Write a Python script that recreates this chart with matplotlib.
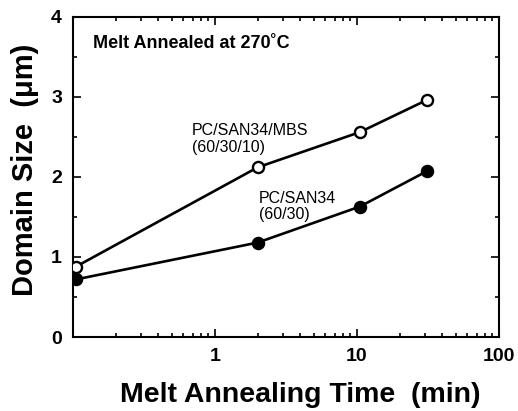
import matplotlib
matplotlib.use("Agg")
import matplotlib.pyplot as plt
from matplotlib.ticker import MultipleLocator, LogLocator, FixedLocator, NullFormatter

plt.rcParams['font.family'] = ['Liberation Sans', 'DejaVu Sans']

# Data
time_mbs = [0.105, 2.0, 10.5, 31]
size_mbs = [0.88, 2.12, 2.56, 2.96]
time_san = [0.105, 2.0, 10.5, 31]
size_san = [0.72, 1.18, 1.63, 2.07]
xtick_vals = [1, 10, 100]
xtick_labels = ['1', '10', '100']
ytick_vals = [0, 1, 2, 3, 4]

fig = plt.figure(figsize=(5.18, 4.11), dpi=100)
ax = fig.add_axes([0.141, 0.180, 0.822, 0.779])

ax.plot(time_mbs, size_mbs, '-o', color='black', lw=1.9, ms=8,
        mfc='white', mec='black', mew=1.7, zorder=3)
ax.plot(time_san, size_san, '-o', color='black', lw=1.9, ms=8,
        mfc='black', mec='black', mew=1.7, zorder=3)

ax.set_xscale('log')
ax.set_xlim(0.1, 100)
ax.set_ylim(0, 4)
ax.xaxis.set_major_locator(FixedLocator(xtick_vals))
ax.set_xticklabels(xtick_labels)
ax.xaxis.set_minor_locator(LogLocator(base=10, subs=range(2, 10)))
ax.xaxis.set_minor_formatter(NullFormatter())
ax.yaxis.set_major_locator(FixedLocator(ytick_vals))
ax.yaxis.set_minor_locator(MultipleLocator(0.5))

ax.tick_params(which='both', direction='in', top=True, right=True, width=1.2)
ax.tick_params(which='major', length=6, labelsize=14, pad=8)
ax.tick_params(which='minor', length=3)
for lab in ax.get_xticklabels() + ax.get_yticklabels():
    lab.set_fontweight('bold')
for s in ax.spines.values():
    s.set_linewidth(1.5)

ax.set_xlabel('Melt Annealing Time  (min)', fontsize=20.5, fontweight='bold', labelpad=12)
ax.xaxis.label.set_x(0.533)
ax.set_ylabel('Domain Size  (\u03bcm)', fontsize=21, fontweight='bold', labelpad=9)
ax.yaxis.label.set_y(0.522)

ax.text(0.047, 0.903, 'Melt Annealed at 270\u02daC', transform=ax.transAxes,
        fontsize=13, fontweight='bold', va='baseline', ha='left')
ax.text(0.69, 2.67, 'PC/SAN34/MBS\n(60/30/10)', fontsize=11.5, va='top', ha='left',
        linespacing=1.15)
ax.text(2.04, 1.83, 'PC/SAN34\n(60/30)', fontsize=11.5, va='top', ha='left',
        linespacing=1.1)

fig.savefig('out.png', dpi=100)
